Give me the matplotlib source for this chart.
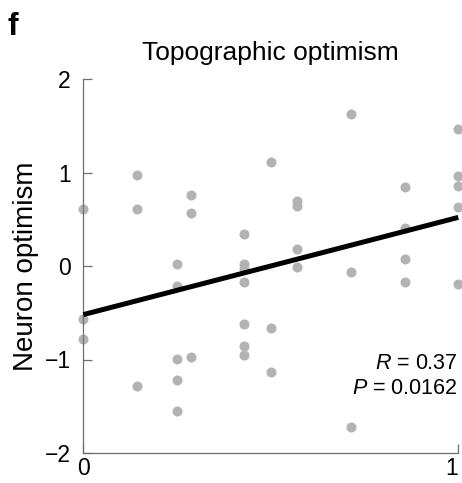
import numpy as np
import matplotlib
matplotlib.use('Agg')
import matplotlib.pyplot as plt

#data
x_groups = [0.0, 0.143, 0.25, 0.286, 0.429, 0.5, 0.571, 0.714, 0.857, 1.0]
y_groups = [
    [0.61, -0.57, -0.78],
    [0.97, 0.61, -1.28],
    [0.02, -0.21, -0.99, -1.22, -1.55],
    [0.76, 0.57, -0.97],
    [0.34, 0.02, -0.03, -0.17, -0.62, -0.86, -0.95],
    [1.11, -0.66, -1.13],
    [0.69, 0.64, 0.18, -0.01],
    [1.63, -0.06, -1.72],
    [0.84, 0.41, 0.07, -0.17],
    [1.47, 0.96, 0.86, 0.63, -0.19],
]
fit_intercept = -0.52
fit_slope = 1.04
r_text = '0.37'
p_text = '0.0162'
x_ticks = [0, 1]
y_ticks = [-2, -1, 0, 1, 2]

#flatten the groups into point lists
xs = []
ys = []
for xg, yg in zip(x_groups, y_groups):
    for v in yg:
        xs.append(xg)
        ys.append(v)

plt.rcParams['font.family'] = ['Liberation Sans', 'DejaVu Sans']
plt.rcParams['mathtext.fontset'] = 'custom'
plt.rcParams['mathtext.rm'] = 'Liberation Sans'
plt.rcParams['mathtext.it'] = 'Liberation Sans:italic'

fig = plt.figure(figsize=(4.62, 4.83), dpi=100)
ax = fig.add_axes([83.3 / 462, 30 / 483, 375 / 462, 374 / 483])

ax.scatter(xs, ys, s=52, color='#b3b3b3', linewidths=0, clip_on=False, zorder=2)

line_x = np.array([0.0, 1.0])
ax.plot(line_x, fit_intercept + fit_slope * line_x, color='black', linewidth=3.6,
        solid_capstyle='butt', clip_on=False, zorder=3)

ax.set_xlim(0, 1)
ax.set_ylim(-2, 2)
ax.set_xticks(x_ticks)
ax.set_yticks(y_ticks)
ax.set_xticklabels([str(t) for t in x_ticks])
ax.set_yticklabels(['\u22122', '\u22121', '0', '1', '2'])
#keep the right-hand "1" inside the figure edge
ax.get_xticklabels()[-1].set_horizontalalignment('right')

for side in ['top', 'right']:
    ax.spines[side].set_visible(False)
for side in ['left', 'bottom']:
    ax.spines[side].set_color('#6e6e6e')
    ax.spines[side].set_linewidth(0.9)

ax.tick_params(direction='in', length=6.5, width=0.9, color='#6e6e6e', labelsize=16.5)
ax.tick_params(axis='x', pad=3)
ax.tick_params(axis='y', pad=9)

ax.set_ylabel('Neuron optimism', fontsize=20, labelpad=4)
ax.set_title('Topographic optimism', fontsize=19, pad=14)

ax.text(0.998, 0.225, f'$R$ = {r_text}', transform=ax.transAxes, fontsize=15.5,
        ha='right', va='baseline')
ax.text(0.998, 0.158, f'$P$ = {p_text}', transform=ax.transAxes, fontsize=15.5,
        ha='right', va='baseline')

fig.text(8 / 462, 1 - 35 / 483, 'f', fontsize=23, fontweight='bold', ha='left', va='baseline')

plt.savefig('out.png', dpi=100)
